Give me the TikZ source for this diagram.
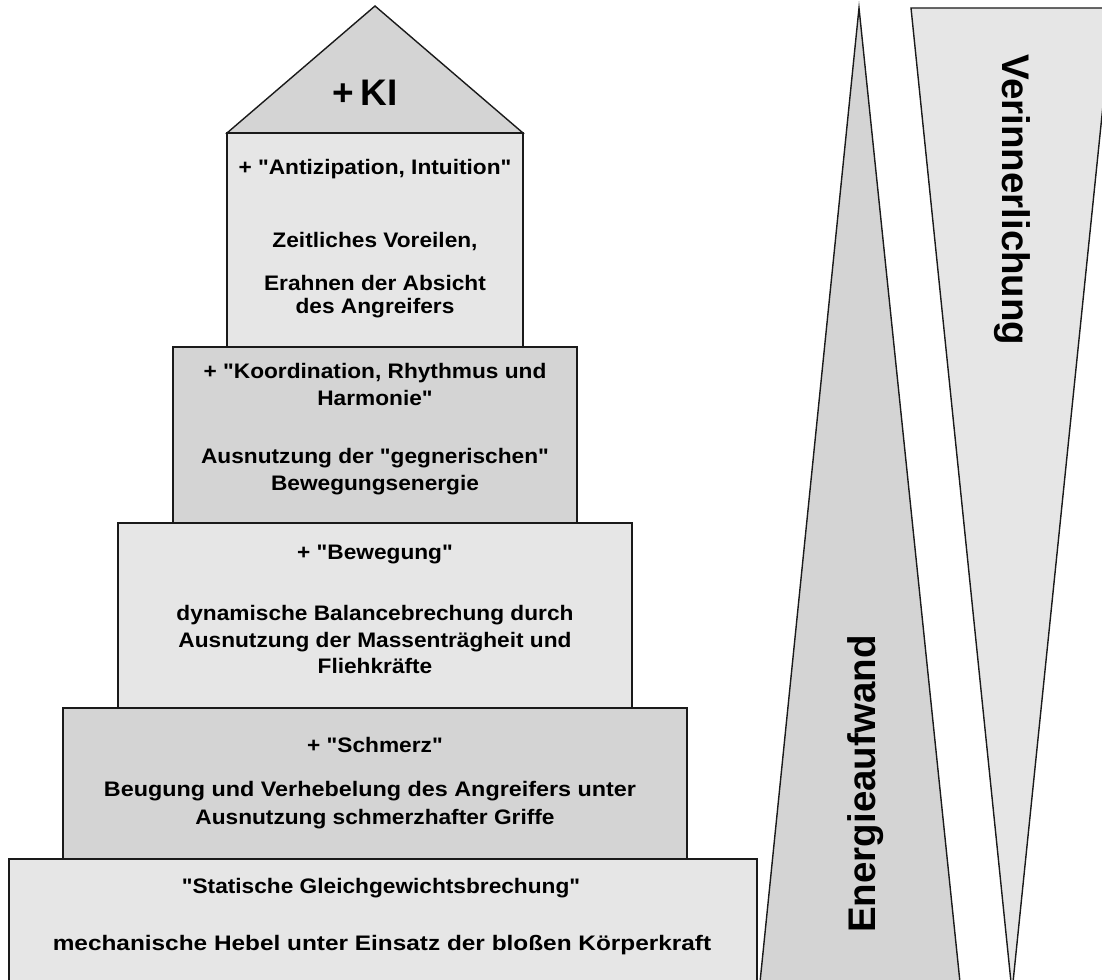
\documentclass[tikz,border=0pt]{standalone}
\usepackage{fontspec}
\setmainfont{Liberation Sans}[FakeStretch=1.08, Ligatures=TeXOff]
\newfontfamily\bigfont{Liberation Sans}[Ligatures=TeXOff]
\definecolor{lightfill}{HTML}{E6E6E6}
\definecolor{darkfill}{HTML}{D4D4D4}
\definecolor{edge}{HTML}{1A1A1A}
\tikzset{
  level/.style={draw=edge, line width=1.4pt, rectangle, anchor=north west, inner sep=0pt, outer sep=0pt},
  lightlevel/.style={level, fill=lightfill},
  darklevel/.style={level, fill=darkfill},
  shapeline/.style={draw=edge, line width=1.4pt, line join=miter},
  txt/.style={anchor=base, inner sep=0pt, font=\fontsize{21}{25}\selectfont\bfseries},
  bigtxt/.style={anchor=base, inner sep=0pt, font=\bigfont\fontsize{38.5}{40}\selectfont\bfseries},
}
\begin{document}
\begin{tikzpicture}[x=1pt,y=-1pt]
\useasboundingbox (0,0) rectangle (1102,979);
\clip (0,0) rectangle (1102,979);
\fill[white] (0,0) rectangle (1102,979);

% right-hand wedges
\coordinate (eTop) at (859,8);
\coordinate (eBL) at (759,992);
\coordinate (eBR) at (961,992);
\filldraw[shapeline, fill=darkfill] (eTop) -- (eBL) -- (eBR) -- cycle;
\coordinate (vTL) at (911,8);
\coordinate (vTR) at (1113,8);
\coordinate (vBot) at (1012,992);
\filldraw[shapeline, fill=lightfill] (vTL) -- (vTR) -- (vBot) -- cycle;

% roof
\coordinate (roofL) at (227,133);
\coordinate (roofTop) at (375,6);
\coordinate (roofR) at (523,133);
\filldraw[shapeline, fill=darkfill] (roofL) -- (roofTop) -- (roofR) -- cycle;

% levels
\node[lightlevel, minimum width=296pt, minimum height=214pt] (lvl1) at (227,133) {};
\node[darklevel, minimum width=404pt, minimum height=176pt] (lvl2) at (173,347) {};
\node[lightlevel, minimum width=514pt, minimum height=185pt] (lvl3) at (118,523) {};
\node[darklevel, minimum width=624pt, minimum height=151pt] (lvl4) at (63,708) {};
\node[lightlevel, minimum width=748pt, minimum height=140pt] (lvl5) at (9,859) {};

% texts
\node[bigtxt, font=\bigfont\fontsize{37}{40}\selectfont\bfseries] (ki) at (365,106) {+\,KI};

\node[txt] (a1) at (375,174) {+ "Antizipation, Intuition"};
\node[txt] (a2) at (375,247) {Zeitliches Voreilen,};
\node[txt] (a3) at (375,290) {Erahnen der Absicht};
\node[txt] (a4) at (375,313) {des Angreifers};

\node[txt] (b1) at (375,378) {+ "Koordination, Rhythmus und};
\node[txt] (b2) at (375,405) {Harmonie"};
\node[txt] (b3) at (375,463) {Ausnutzung der "gegnerischen"};
\node[txt] (b4) at (375,490) {Bewegungsenergie};

\node[txt] (c1) at (375,559) {+ "Bewegung"};
\node[txt] (c2) at (375,620) {dynamische Balancebrechung durch};
\node[txt] (c3) at (375,647) {Ausnutzung der Massenträgheit und};
\node[txt] (c4) at (375,673) {Fliehkräfte};

\node[txt] (d1) at (375,752) {+ "Schmerz"};
\node[txt] (d2) at (370,796) {\scalebox{1.03}[1]{Beugung und Verhebelung des Angreifers unter}};
\node[txt] (d3) at (375,824) {Ausnutzung schmerzhafter Griffe};

\node[txt] (e1) at (381,893) {"Statische Gleichgewichtsbrechung"};
\node[txt] (e2) at (382,950) {\scalebox{1.075}[1]{mechanische Hebel unter Einsatz der bloßen Körperkraft}};

\node[bigtxt, rotate=90] (energie) at (875,784) {Energieaufwand};
\node[bigtxt, rotate=-90] (verinn) at (1002,200) {Verinnerlichung};
\end{tikzpicture}
\end{document}
